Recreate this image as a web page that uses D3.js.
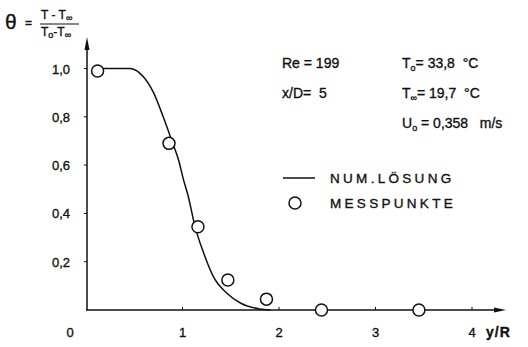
<!DOCTYPE html>
<html lang="de">
<head>
  <meta charset="UTF-8">
  <title>Temperaturprofil</title>
  <style>
    body {
      margin: 0;
      background: #fff;
    }
    svg text {
      font-family: "Liberation Sans", Arial, sans-serif;
      fill: #111;
      stroke: #111;
      stroke-width: 0.35px;
      white-space: pre;
    }
  </style>
</head>
<body>
  <svg id="chart" width="528" height="347"></svg>

  <script src="https://d3js.org/d3.v7.min.js"></script>
  <script>
    // numerical solution
    const curveX = [0.12, 0.2, 0.45, 0.56, 0.70, 0.80, 0.89, 0.96, 1.01, 1.06, 1.13, 1.22, 1.32, 1.46, 1.60, 1.80, 1.91];
    const curveY = [1, 1, 1, 0.98, 0.90, 0.80, 0.70, 0.62, 0.54, 0.47, 0.345, 0.235, 0.138, 0.069, 0.029, 0.004, 0];

    // measured points
    const measX = [0.12, 0.86, 1.16, 1.47, 1.87, 2.44, 3.45];
    const measY = [0.99, 0.69, 0.345, 0.124, 0.045, 0, 0];

    // tick labels
    const xTicks = [1, 2, 3, 4];
    const xTickLabels = ["1", "2", "3", "4"];
    const yTicks = [0.2, 0.4, 0.6, 0.8, 1.0];
    const yTickLabels = ["0,2", "0,4", "0,6", "0,8", "1,0"];

    const svg = d3.select("#chart");
    const ink = "#111";

    const xScale = d3.scaleLinear().domain([0, 4]).range([86, 472]);
    const yScale = d3.scaleLinear().domain([0, 1]).range([310, 68.5]);

    // axes with arrows
    svg.append("line")
      .attr("x1", xScale(0)).attr("y1", yScale(0))
      .attr("x2", 500).attr("y2", yScale(0))
      .attr("stroke", ink).attr("stroke-width", 1.5);
    svg.append("path")
      .attr("d", `M506,${yScale(0)} L494,${yScale(0) - 2.5} L494,${yScale(0) + 2.5} Z`)
      .attr("fill", ink);

    svg.append("line")
      .attr("x1", xScale(0) + 1).attr("y1", yScale(0))
      .attr("x2", xScale(0) + 1).attr("y2", 42)
      .attr("stroke", ink).attr("stroke-width", 1.5);
    svg.append("path")
      .attr("d", `M${xScale(0) + 1},37 L${xScale(0) - 1.5},50 L${xScale(0) + 3.5},50 Z`)
      .attr("fill", ink);

    // tick marks
    svg.selectAll(".xtick").data(xTicks).enter().append("line")
      .attr("x1", d => xScale(d)).attr("x2", d => xScale(d))
      .attr("y1", yScale(0)).attr("y2", yScale(0) - 3)
      .attr("stroke", ink).attr("stroke-width", 1);
    svg.selectAll(".ytick").data(yTicks).enter().append("line")
      .attr("x1", xScale(0) + 1).attr("x2", xScale(0) - 2)
      .attr("y1", d => yScale(d)).attr("y2", d => yScale(d))
      .attr("stroke", ink).attr("stroke-width", 1);

    // tick labels
    svg.selectAll(".xlab").data(xTicks).enter().append("text")
      .attr("x", d => xScale(d)).attr("y", 337)
      .attr("text-anchor", "middle")
      .attr("font-size", 13)
      .text((d, i) => xTickLabels[i]);
    svg.append("text")
      .attr("x", 70).attr("y", 337)
      .attr("text-anchor", "middle")
      .attr("font-size", 13)
      .text("0");
    svg.append("text")
      .attr("x", 486).attr("y", 337)
      .attr("font-size", 14).attr("font-weight", "bold")
      .attr("letter-spacing", 1)
      .text("y/R");

    svg.selectAll(".ylab").data(yTicks).enter().append("text")
      .attr("x", 70).attr("y", d => yScale(d) + 5)
      .attr("text-anchor", "end")
      .attr("font-size", 13)
      .text((d, i) => yTickLabels[i]);

    // y axis title: theta = (T - Tinf)/(To - Tinf)
    svg.append("text").attr("x", 5).attr("y", 29)
      .attr("font-size", 21).text("θ");
    svg.append("text").attr("x", 25).attr("y", 27)
      .attr("font-size", 12).text("=");
    const num = svg.append("text").attr("x", 41).attr("y", 19).attr("font-size", 12);
    num.append("tspan").text("T - T");
    num.append("tspan").attr("font-size", 9).attr("dy", 2).text("∞");
    svg.append("line")
      .attr("x1", 40).attr("x2", 79).attr("y1", 24).attr("y2", 24)
      .attr("stroke", ink).attr("stroke-width", 1.2);
    const den = svg.append("text").attr("x", 41).attr("y", 36).attr("font-size", 12);
    den.append("tspan").text("T");
    den.append("tspan").attr("font-size", 9).attr("dy", 2).text("o");
    den.append("tspan").attr("dy", -2).text("-T");
    den.append("tspan").attr("font-size", 9).attr("dy", 2).text("∞");

    // parameter block
    svg.append("text").attr("x", 282).attr("y", 68).attr("font-size", 14).text("Re = 199");
    svg.append("text").attr("x", 282).attr("y", 98).attr("font-size", 14).text("x/D=  5");

    function subLine(x, y, main, sub, rest) {
      const t = svg.append("text").attr("x", x).attr("y", y).attr("font-size", 14);
      t.append("tspan").text(main);
      t.append("tspan").attr("font-size", 9).attr("dy", 3).text(sub);
      t.append("tspan").attr("dy", -3).text(rest);
    }
    subLine(402, 68, "T", "o", "= 33,8  °C");
    subLine(402, 98, "T", "∞", "= 19,7  °C");
    subLine(402, 128, "U", "o", " = 0,358   m/s");

    // legend
    svg.append("line")
      .attr("x1", 283).attr("x2", 315).attr("y1", 178).attr("y2", 178)
      .attr("stroke", ink).attr("stroke-width", 1.5);
    svg.append("text").attr("x", 330).attr("y", 183)
      .attr("font-size", 13.5).attr("letter-spacing", 3.3).text("NUM.LÖSUNG");
    svg.append("circle")
      .attr("cx", 295).attr("cy", 203).attr("r", 6)
      .attr("fill", "#fff").attr("stroke", ink).attr("stroke-width", 1.5);
    svg.append("text").attr("x", 330).attr("y", 208)
      .attr("font-size", 13.5).attr("letter-spacing", 3.3).text("MESSPUNKTE");

    // numerical curve
    const line = d3.line()
      .x(d => xScale(d[0]))
      .y(d => yScale(d[1]))
      .curve(d3.curveMonotoneX);
    svg.append("path")
      .datum(curveX.map((x, i) => [x, curveY[i]]))
      .attr("d", line)
      .attr("fill", "none")
      .attr("stroke", ink)
      .attr("stroke-width", 1.5);

    // measured points
    svg.selectAll(".meas").data(measX.map((x, i) => [x, measY[i]])).enter().append("circle")
      .attr("cx", d => xScale(d[0]))
      .attr("cy", d => yScale(d[1]))
      .attr("r", 6)
      .attr("fill", "#fff")
      .attr("stroke", ink)
      .attr("stroke-width", 1.5);
  </script>
</body>
</html>
